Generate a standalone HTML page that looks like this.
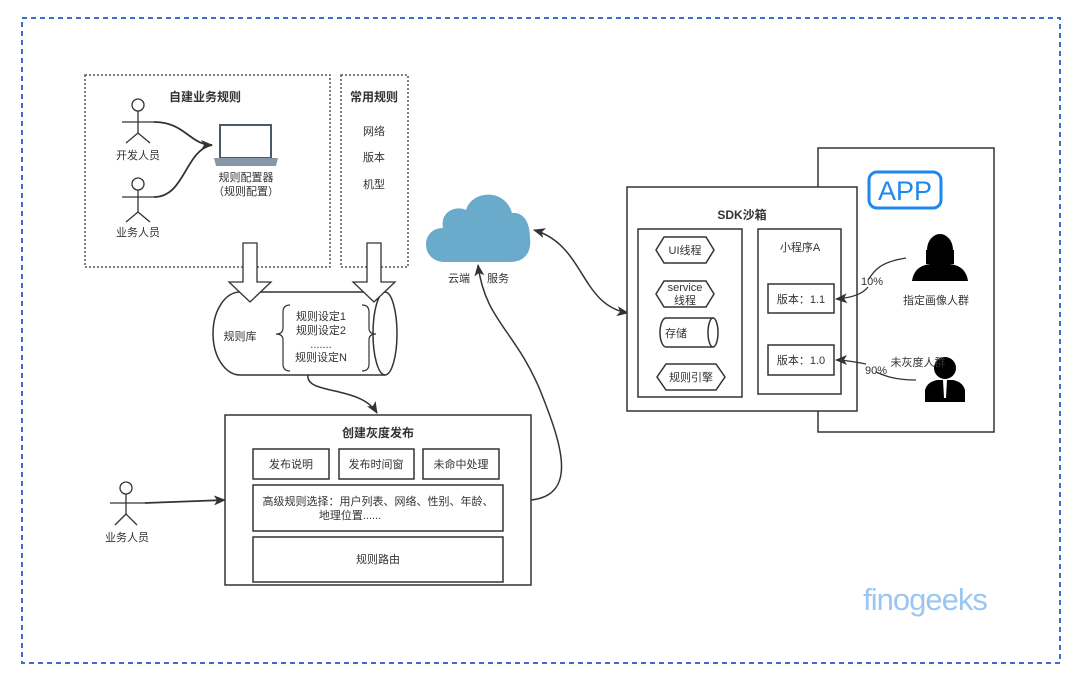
<!DOCTYPE html>
<html><head><meta charset="utf-8"><style>
html,body{margin:0;padding:0;background:#fff}
svg{display:block}
text{font-family:"Liberation Sans","Noto Sans CJK SC",sans-serif;fill:#333;font-size:11px}
.b{font-weight:bold;font-size:12px}
</style></head><body>
<svg width="1080" height="685" viewBox="0 0 1080 685" xmlns="http://www.w3.org/2000/svg">
<defs>
<marker id="ar" markerWidth="12" markerHeight="12" refX="11" refY="6" orient="auto" markerUnits="userSpaceOnUse"><path d="M0,1 L12,6 L0,11 L3,6Z" fill="#333"/></marker>
<marker id="as" markerWidth="12" markerHeight="12" refX="1" refY="6" orient="auto" markerUnits="userSpaceOnUse"><path d="M12,1 L0,6 L12,11 L9,6Z" fill="#333"/></marker>
</defs>
<rect x="22" y="18" width="1038" height="645" fill="none" stroke="#3a6fd0" stroke-width="2" stroke-dasharray="5,4"/>
<rect x="85" y="75" width="245" height="192" fill="none" stroke="#555" stroke-width="1.5" stroke-dasharray="2,2"/>
<rect x="341" y="75" width="67" height="192" fill="none" stroke="#555" stroke-width="1.5" stroke-dasharray="2,2"/>
<text x="205" y="101" class="b" text-anchor="middle">自建业务规则</text>
<text x="374" y="101" class="b" text-anchor="middle">常用规则</text>
<text x="374" y="135" text-anchor="middle">网络</text>
<text x="374" y="161" text-anchor="middle">版本</text>
<text x="374" y="188" text-anchor="middle">机型</text>
<g stroke="#333" stroke-width="1.3" fill="none">
<circle cx="138" cy="105" r="6"/><line x1="138" y1="111" x2="138" y2="133"/><line x1="122" y1="122" x2="154" y2="122"/><line x1="138" y1="133" x2="126" y2="143"/><line x1="138" y1="133" x2="150" y2="143"/>
<circle cx="138" cy="184" r="6"/><line x1="138" y1="190" x2="138" y2="212"/><line x1="122" y1="197" x2="154" y2="197"/><line x1="138" y1="212" x2="126" y2="222"/><line x1="138" y1="212" x2="150" y2="222"/>
<circle cx="126" cy="488" r="6"/><line x1="126" y1="494" x2="126" y2="514"/><line x1="110" y1="503" x2="145" y2="503"/><line x1="126" y1="514" x2="115" y2="525"/><line x1="126" y1="514" x2="137" y2="525"/>
<path d="M154,122 C185,122 190,145 212,145" marker-end="url(#ar)" stroke-width="1.8"/>
<path d="M154,197 C185,197 185,150 212,145" stroke-width="1.8"/>
<path d="M145,503 L225,500" marker-end="url(#ar)" stroke-width="1.8"/>
</g>
<text x="138" y="159" text-anchor="middle">开发人员</text>
<text x="138" y="236" text-anchor="middle">业务人员</text>
<text x="127" y="541" text-anchor="middle">业务人员</text>
<rect x="220" y="125" width="51" height="33" fill="#fff" stroke="#4a5b6e" stroke-width="2"/>
<path d="M214,158 L278,158 L276,166 L216,166Z" fill="#8796a8"/>
<text x="246" y="181" text-anchor="middle">规则配置器</text>
<text x="246" y="195" text-anchor="middle">（规则配置）</text>
<path d="M385,292 L240,292 A27,41.5 0 0 0 240,375 L385,375" fill="#fff" stroke="#333" stroke-width="1.5"/>
<ellipse cx="385" cy="333.5" rx="12" ry="41.5" fill="#fff" stroke="#333" stroke-width="1.5"/>
<g fill="#fff" stroke="#333" stroke-width="1.3">
<path d="M243,243 L257,243 L257,282 L271,282 L250,302 L229,282 L243,282Z"/>
<path d="M367,243 L381,243 L381,282 L395,282 L374,302 L353,282 L367,282Z"/>
</g>
<text x="240" y="340" text-anchor="middle">规则库</text>
<path d="M290,305 Q283,305 283,312 L283,328 Q283,334 276,334 Q283,334 283,340 L283,364 Q283,371 290,371" fill="none" stroke="#333" stroke-width="1.2"/>
<path d="M362,305 Q369,305 369,312 L369,328 Q369,334 376,334 Q369,334 369,340 L369,364 Q369,371 362,371" fill="none" stroke="#333" stroke-width="1.2"/>
<text x="321" y="320" text-anchor="middle">规则设定1</text>
<text x="321" y="334" text-anchor="middle">规则设定2</text>
<text x="321" y="348" text-anchor="middle">.......</text>
<text x="321" y="361" text-anchor="middle">规则设定N</text>
<path d="M308,375 C305,395 360,385 377,413" fill="none" stroke="#333" stroke-width="1.5" marker-end="url(#ar)"/>
<g fill="#fff" stroke="#333" stroke-width="1.5">
<rect x="225" y="415" width="306" height="170"/>
<rect x="253" y="449" width="76" height="30"/>
<rect x="339" y="449" width="75" height="30"/>
<rect x="423" y="449" width="76" height="30"/>
<rect x="253" y="485" width="250" height="46"/>
<rect x="253" y="537" width="250" height="45"/>
</g>
<text x="378" y="437" class="b" text-anchor="middle">创建灰度发布</text>
<text x="291" y="468" text-anchor="middle">发布说明</text>
<text x="376" y="468" text-anchor="middle">发布时间窗</text>
<text x="461" y="468" text-anchor="middle">未命中处理</text>
<text x="378" y="505" text-anchor="middle">高级规则选择：用户列表、网络、性别、年龄、</text>
<text x="350" y="519" text-anchor="middle">地理位置......</text>
<text x="378" y="563" text-anchor="middle">规则路由</text>
<path d="M531,500 C580,495 560,440 540,390 C515,330 485,320 478,265" fill="none" stroke="#333" stroke-width="1.5" marker-end="url(#ar)"/>
<path d="M445,262 C420,262 420,228 443,228 C440,212 455,205 466,210 C472,190 505,188 512,213 C522,212 530,220 530,238 C532,255 522,262 510,262Z" fill="#6aabcb"/>
<text x="448" y="282">云端</text>
<text x="487" y="282">服务</text>
<path d="M534,230 C585,245 580,305 628,313" fill="none" stroke="#333" stroke-width="1.5" marker-start="url(#as)" marker-end="url(#ar)"/>
<rect x="818" y="148" width="176" height="284" fill="#fff" stroke="#333" stroke-width="1.5"/>
<rect x="869" y="172" width="72" height="36" rx="8" fill="#fff" stroke="#1e88f0" stroke-width="3"/>
<text x="905" y="200" text-anchor="middle" style="font-size:27px;fill:#1e88f0">APP</text>
<g fill="#fff" stroke="#333" stroke-width="1.5">
<rect x="627" y="187" width="230" height="224"/>
<rect x="638" y="229" width="104" height="168"/>
<rect x="758" y="229" width="83" height="165"/>
<rect x="768" y="284" width="66" height="29"/>
<rect x="768" y="345" width="66" height="30"/>
<path d="M664,237 L706,237 L714,250 L706,263 L664,263 L656,250Z"/>
<path d="M664,281 L706,281 L714,294 L706,307 L664,307 L656,294Z"/>
<path d="M666,364 L716,364 L725,377 L716,390 L666,390 L657,377Z"/>
<path d="M713,318 L666,318 A6,14.5 0 0 0 666,347 L713,347"/>
<ellipse cx="713" cy="332.5" rx="5" ry="14.5"/>
</g>
<text x="742" y="219" class="b" text-anchor="middle">SDK沙箱</text>
<text x="685" y="254" text-anchor="middle">UI线程</text>
<text x="685" y="291" text-anchor="middle">service</text>
<text x="685" y="304" text-anchor="middle">线程</text>
<text x="676" y="337" text-anchor="middle">存储</text>
<text x="691" y="381" text-anchor="middle">规则引擎</text>
<text x="800" y="251" text-anchor="middle">小程序A</text>
<text x="801" y="303" text-anchor="middle">版本：1.1</text>
<text x="801" y="364" text-anchor="middle">版本：1.0</text>
<ellipse cx="940" cy="250" rx="13" ry="16" fill="#000"/>
<path d="M926,250 L926,264 L954,264 L954,250Z" fill="#000"/>
<path d="M912,281 Q914,266 930,264 L950,264 Q966,266 968,281Z" fill="#000"/>
<circle cx="945" cy="368" r="11" fill="#000"/>
<path d="M925,402 L925,390 Q927,382 937,380 L953,380 Q963,382 965,390 L965,402Z" fill="#000"/>
<path d="M943,380 L947,380 L946,398 L944,398Z" fill="#fff"/>
<text x="936" y="304" text-anchor="middle">指定画像人群</text>
<text x="918" y="366" text-anchor="middle">未灰度人群</text>
<path d="M906,258 C880,262 875,270 868,280" fill="none" stroke="#333" stroke-width="1.3"/>
<path d="M868,287 C862,295 850,298 836,299" fill="none" stroke="#333" stroke-width="1.3" marker-end="url(#ar)"/>
<text x="872" y="285" text-anchor="middle">10%</text>
<path d="M916,380 C895,380 885,376 876,372" fill="none" stroke="#333" stroke-width="1.3"/>
<path d="M866,364 C855,362 846,360 836,360" fill="none" stroke="#333" stroke-width="1.3" marker-end="url(#ar)"/>
<text x="876" y="374" text-anchor="middle">90%</text>
<text x="925" y="610" text-anchor="middle" style="font-size:31px;fill:#9cc6f2;letter-spacing:-1px">finogeeks</text>
</svg>
</body></html>
